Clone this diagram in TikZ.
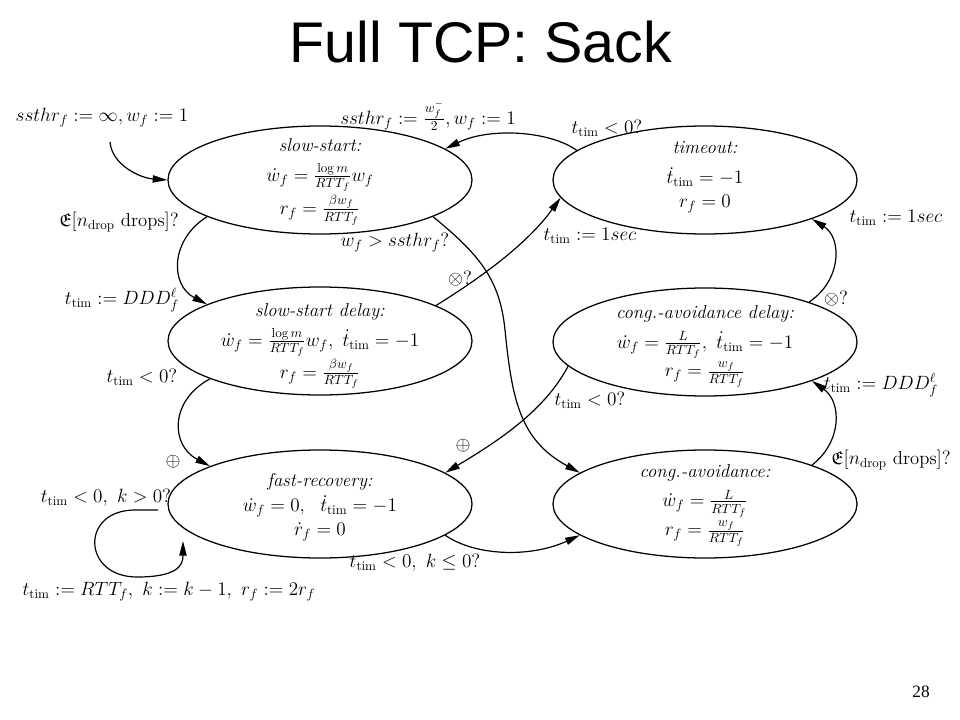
\documentclass[tikz,border=0pt]{standalone}
\usepackage{amssymb}
\usepackage{fontspec}
\newfontfamily\titlefont{Liberation Sans}
\newfontfamily\pagefont{Liberation Serif}
\usetikzlibrary{arrows.meta,shapes.geometric}
\tikzset{
  state/.style={draw, ellipse, minimum width=228pt, minimum height=81pt, inner sep=0pt, line width=0.95pt},
  statetext/.style={align=center, inner sep=0pt},
  lbl/.style={inner sep=1pt},
  arr/.style={line width=0.9pt, -{Triangle[length=11pt,width=5.5pt]}},
  every node/.append style={font=\fontsize{14}{17}\selectfont}
}
\newcommand{\tim}{_{\mathrm{tim}}}
\begin{document}
\begin{tikzpicture}[x=0.75pt,y=-0.75pt]
\useasboundingbox (0,0) rectangle (960,720);
\node[anchor=base, font=\titlefont\fontsize{43}{50}\selectfont] (title) at (481,63) {Full TCP: Sack};
\node[font=\pagefont\fontsize{13}{15}\selectfont] (page) at (921,692) {28};

\node[state] (ss) at (320,180) {};
\node[state] (to) at (705,180) {};
\node[state] (ssd) at (320,341) {};
\node[state] (cad) at (705,342) {};
\node[state] (fr) at (320,504) {};
\node[state] (ca) at (705,504) {};

\node[statetext] (sstxt) at ([yshift=-1.5pt]ss.center) {\textit{slow-start:}\\[5pt] $\dot w_f = \frac{\log m}{RTT_f} w_f$\\[2pt] $r_f = \frac{\beta w_f}{RTT_f}$};
\node[statetext] (totxt) at ([yshift=2pt]to.center) {\textit{timeout:}\\[6pt] $\dot t\tim = -1$\\[1pt] $r_f = 0$};
\node[statetext] (ssdtxt) at ([yshift=-4pt]ssd.center) {\textit{slow-start delay:}\\[5pt] $\dot w_f = \frac{\log m}{RTT_f} w_f,\ \dot t\tim = -1$\\[1pt] $r_f = \frac{\beta w_f}{RTT_f}$};
\node[statetext] (cadtxt) at ([yshift=-3.5pt]cad.center) {\textit{cong.-avoidance delay:}\\[5pt] $\dot w_f = \frac{L}{RTT_f},\ \dot t\tim = -1$\\[1pt] $r_f = \frac{w_f}{RTT_f}$};
\node[statetext] (frtxt) at ([yshift=-2.5pt]fr.center) {\textit{fast-recovery:}\\[2pt] $\dot w_f = 0,\ \ \dot t\tim = -1$\\[1pt] $\dot r_f = 0$};
\node[statetext] (catxt) at ([yshift=-1pt]ca.center) {\textit{cong.-avoidance:}\\[5pt] $\dot w_f = \frac{L}{RTT_f}$\\[1.5pt] $r_f = \frac{w_f}{RTT_f}$};

\coordinate (initstart) at (110,142);
\coordinate (loopout) at (158,510);
\coordinate (loopin) at (183,541);

\draw[arr] (initstart) .. controls (112,165) and (140,178) .. (ss.180);
\draw[arr] (to.167) .. controls (550,131) and (490,127) .. (ss.14);
\draw[arr] (ss.198) .. controls (170,240) and (170,285) .. (ssd.162);
\draw[arr] (ssd.199) .. controls (170,400) and (170,445) .. (fr.161);
\draw[arr] (ssd.17) .. controls (490,272) and (530,240) .. (to.187);
\draw[arr] (ss.342) .. controls (480,255) and (500,280) .. (505,330) .. controls (512,400) and (520,440) .. (ca.166);
\draw[arr] (cad.21) .. controls (842,280) and (842,238) .. (to.340);
\draw[arr] (cad.190) .. controls (545,410) and (500,440) .. (fr.14);
\draw[arr] (ca.20) .. controls (842,442) and (842,402) .. (cad.340);
\draw[arr] (fr.346) .. controls (475,556) and (530,558) .. (ca.194);
\draw[arr] (loopout) -- (135,510) .. controls (80,510) and (82,577) .. (137,577) .. controls (178,577) and (183,565) .. (loopin);

\node[lbl] (initlbl) at (102,118) {$ssthr_f := \infty, w_f := 1$};
\node[lbl] (retlbl) at (428,116) {$ssthr_f := \frac{w_f^-}{2}, w_f := 1$};
\node[lbl] (tolt) at (607,128) {$t\tim < 0?$};
\node[lbl] (dropA) at (119,222) {$\mathfrak{E}[n_{\mathrm{drop}}\ \mathrm{drops}]?$};
\node[lbl] (dddA) at (122,300) {$t\tim := DDD_f^\ell$};
\node[lbl] (ltA) at (142,377) {$t\tim < 0?$};
\node[lbl] (oplusA) at (173,462) {$\oplus$};
\node[lbl] (wgt) at (395,243) {$w_f > ssthr_f?$};
\node[lbl] (otimesA) at (460,279) {$\otimes?$};
\node[lbl] (secA) at (590,236) {$t\tim := 1sec$};
\node[lbl] (secB) at (896,218) {$t\tim := 1sec$};
\node[lbl] (otimesB) at (836,299) {$\otimes?$};
\node[lbl] (ltB) at (590,400) {$t\tim < 0?$};
\node[lbl] (oplusB) at (463,446) {$\oplus$};
\node[lbl] (dddB) at (881,385) {$t\tim := DDD_f^\ell$};
\node[lbl] (dropB) at (891,460) {$\mathfrak{E}[n_{\mathrm{drop}}\ \mathrm{drops}]?$};
\node[lbl] (frlt) at (106,498) {$t\tim < 0,\ k > 0?$};
\node[lbl] (frk) at (415,563) {$t\tim < 0,\ k \le 0?$};
\node[lbl] (loopact) at (169,592) {$t\tim := RTT_f,\ k := k-1,\ r_f := 2r_f$};
\end{tikzpicture}
\end{document}
